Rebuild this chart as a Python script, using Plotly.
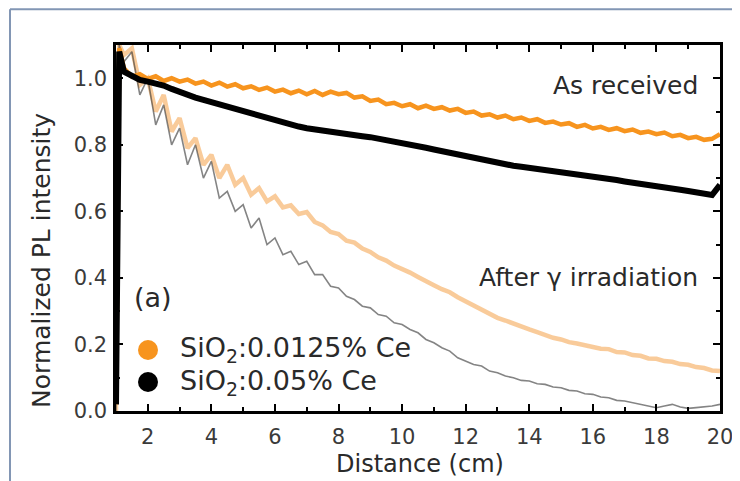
import plotly.graph_objects as go

# Distance (cm)
distance = [1.0, 1.1,
            1.25, 1.5, 1.75, 2.0, 2.25, 2.5, 2.75, 3.0, 3.25, 3.5, 3.75, 4.0,
            4.25, 4.5, 4.75, 5.0, 5.25, 5.5, 5.75, 6.0, 6.25, 6.5, 6.75, 7.0,
            7.25, 7.5, 7.75, 8.0, 8.25, 8.5, 8.75, 9.0, 9.25, 9.5, 9.75, 10.0,
            10.25, 10.5, 10.75, 11.0, 11.25, 11.5, 11.75, 12.0, 12.25, 12.5, 12.75, 13.0,
            13.25, 13.5, 13.75, 14.0, 14.25, 14.5, 14.75, 15.0, 15.25, 15.5, 15.75, 16.0,
            16.25, 16.5, 16.75, 17.0, 17.25, 17.5, 17.75, 18.0, 18.25, 18.5, 18.75, 19.0,
            19.25, 19.5, 19.75, 20.0]

# SiO2:0.0125% Ce, as received
orange_received = [0.02, 1.09,
                   1.03, 1.005, 1.012, 0.998, 1.006, 0.992, 1.0, 0.99,
                   0.996, 0.984, 0.99, 0.978, 0.987, 0.975, 0.982, 0.97,
                   0.976, 0.965, 0.972, 0.96, 0.966, 0.955, 0.963, 0.952,
                   0.962, 0.95, 0.96, 0.952, 0.956, 0.942, 0.946, 0.932,
                   0.936, 0.922, 0.926, 0.916, 0.922, 0.91, 0.918, 0.908,
                   0.913, 0.903, 0.908, 0.896, 0.9, 0.888, 0.892, 0.882,
                   0.888, 0.877, 0.882, 0.872, 0.877, 0.866, 0.87, 0.861,
                   0.865, 0.854, 0.86, 0.849, 0.854, 0.845, 0.85, 0.841,
                   0.846, 0.836, 0.84, 0.832, 0.837, 0.826, 0.83, 0.82,
                   0.824, 0.815, 0.818, 0.832]

# SiO2:0.05% Ce, as received
black_received = [0.02, 1.08,
                  1.02, 1.005, 0.995, 0.99, 0.985, 0.978, 0.968, 0.958,
                  0.95, 0.942, 0.935, 0.928, 0.921, 0.914, 0.907, 0.9,
                  0.893, 0.886, 0.879, 0.872, 0.866, 0.86, 0.855, 0.85,
                  0.846, 0.842, 0.839, 0.836, 0.833, 0.83, 0.826, 0.823,
                  0.819, 0.815, 0.811, 0.806, 0.801, 0.796, 0.791, 0.786,
                  0.781, 0.776, 0.771, 0.766, 0.76, 0.754, 0.749, 0.745,
                  0.741, 0.737, 0.734, 0.731, 0.728, 0.725, 0.722, 0.719,
                  0.716, 0.713, 0.71, 0.706, 0.702, 0.698, 0.694, 0.69,
                  0.687, 0.684, 0.68, 0.677, 0.673, 0.669, 0.665, 0.661,
                  0.657, 0.653, 0.649, 0.68]

# SiO2:0.0125% Ce, after gamma irradiation
orange_irradiated = [0.0, 1.1,
                     1.07, 1.09, 0.98, 1.0, 0.9, 0.95, 0.84, 0.88,
                     0.79, 0.82, 0.74, 0.77, 0.7, 0.74, 0.68, 0.7,
                     0.65, 0.67, 0.63, 0.645, 0.612, 0.618, 0.592, 0.598,
                     0.568, 0.558, 0.538, 0.532, 0.512, 0.506, 0.488, 0.478,
                     0.462, 0.452, 0.437, 0.428, 0.416, 0.403, 0.392, 0.378,
                     0.366, 0.357, 0.342, 0.33, 0.317, 0.306, 0.292, 0.28,
                     0.272, 0.262, 0.252, 0.245, 0.237, 0.228, 0.22, 0.215,
                     0.207, 0.203, 0.197, 0.194, 0.187, 0.186, 0.177, 0.176,
                     0.168, 0.166, 0.158, 0.157, 0.15, 0.148, 0.141, 0.139,
                     0.132, 0.129, 0.122, 0.12]

# SiO2:0.05% Ce, after gamma irradiation
black_irradiated = [0.0, 1.1,
                    1.05, 1.08, 0.95, 1.0, 0.86, 0.92, 0.8, 0.85,
                    0.74, 0.8, 0.7, 0.75, 0.64, 0.66, 0.6, 0.62,
                    0.55, 0.58, 0.5, 0.52, 0.47, 0.48, 0.44, 0.45,
                    0.41, 0.41, 0.375, 0.37, 0.345, 0.335, 0.315, 0.31,
                    0.29, 0.285, 0.265, 0.26, 0.245, 0.235, 0.215, 0.205,
                    0.19, 0.18, 0.16, 0.15, 0.14, 0.135, 0.12, 0.115,
                    0.105, 0.1, 0.092, 0.09, 0.082, 0.08, 0.072, 0.07,
                    0.062, 0.06, 0.052, 0.05, 0.042, 0.04, 0.032, 0.03,
                    0.025, 0.022, 0.015, 0.01, 0.015, 0.02, 0.012, 0.008,
                    0.01, 0.012, 0.015, 0.02]

x_ticks = [2, 4, 6, 8, 10, 12, 14, 16, 18, 20]
y_ticks = [0.0, 0.2, 0.4, 0.6, 0.8, 1.0]
y_tick_text = ["0.0", "0.2", "0.4", "0.6", "0.8", "1.0"]

legend_labels = ["SiO<sub>2</sub>:0.0125% Ce", "SiO<sub>2</sub>:0.05% Ce"]

ORANGE = "rgb(247,148,30)"
FONT = "DejaVu Sans"
TXT = "#2a2a2a"

fig = go.Figure()
fig.add_trace(go.Scatter(x=distance, y=orange_irradiated, mode="lines",
                         line=dict(color="rgba(247,185,120,0.75)", width=4.5), showlegend=False))
fig.add_trace(go.Scatter(x=distance, y=black_irradiated, mode="lines",
                         line=dict(color="rgba(50,50,50,0.6)", width=1.6), showlegend=False))
fig.add_trace(go.Scatter(x=distance, y=orange_received, mode="lines",
                         line=dict(color=ORANGE, width=4.5), showlegend=False))
fig.add_trace(go.Scatter(x=distance, y=black_received, mode="lines",
                         line=dict(color="black", width=6), showlegend=False))

axis_common = dict(showline=True, linecolor="black", linewidth=2.5, mirror="ticks",
                   ticks="inside", ticklen=7, tickwidth=2, tickcolor="black",
                   showgrid=False, zeroline=False, automargin=False,
                   tickfont=dict(family=FONT, size=21, color="#3a3a3a"))

fig.update_xaxes(range=[1, 20], tickvals=x_ticks, ticklabelstandoff=5,
                 minor=dict(ticks="inside", ticklen=4, tickwidth=2, tickcolor="black", dtick=1, tick0=1),
                 **axis_common)
fig.update_yaxes(range=[0, 1.1], tickvals=y_ticks, ticktext=y_tick_text, ticklabelstandoff=2,
                 minor=dict(ticks="inside", ticklen=4, tickwidth=2, tickcolor="black", dtick=0.1, tick0=0),
                 **axis_common)

# axis titles
fig.add_annotation(x=0.503, y=-0.145, xref="paper", yref="paper", text="Distance (cm)",
                   showarrow=False, xanchor="center", yanchor="middle",
                   font=dict(family=FONT, size=24, color=TXT))
fig.add_annotation(x=-0.1225, y=0.41, xref="paper", yref="paper", text="Normalized PL intensity",
                   showarrow=False, xanchor="center", yanchor="middle", textangle=-90,
                   font=dict(family=FONT, size=25, color=TXT))

fig.add_annotation(x=0.967, y=0.888, xref="paper", yref="paper", text="As received",
                   showarrow=False, xanchor="right", yanchor="middle",
                   font=dict(family=FONT, size=25, color=TXT))
fig.add_annotation(x=0.967, y=0.366, xref="paper", yref="paper", text="After γ irradiation",
                   showarrow=False, xanchor="right", yanchor="middle",
                   font=dict(family=FONT, size=25, color=TXT))
fig.add_annotation(x=0.026, y=0.309, xref="paper", yref="paper", text="(a)",
                   showarrow=False, xanchor="left", yanchor="middle",
                   font=dict(family=FONT, size=27, color=TXT))

# legend (drawn manually for exact spacing)
legend_rows = [(0.1667, ORANGE), (0.0792, "black")]
for (ly, col), lab in zip(legend_rows, legend_labels):
    fig.add_shape(type="circle", xref="paper", yref="paper", xsizemode="pixel", ysizemode="pixel",
                  xanchor=0.053, yanchor=ly, x0=-10, x1=10, y0=-10, y1=10,
                  fillcolor=col, line=dict(color=col, width=0))
    fig.add_annotation(x=0.1026, y=ly, xref="paper", yref="paper", text=lab,
                       showarrow=False, xanchor="left", yanchor="middle",
                       font=dict(family=FONT, size=27, color=TXT))

# outer frame lines (top and left)
frame = "rgb(130,150,180)"
fig.add_shape(type="line", xref="paper", yref="paper", x0=-0.1755, x1=1.1, y0=1.098, y1=1.098,
              line=dict(color=frame, width=2))
fig.add_shape(type="line", xref="paper", yref="paper", x0=-0.1755, x1=-0.1755, y0=1.098, y1=-0.3,
              line=dict(color=frame, width=2))

fig.update_layout(
    width=732, height=473,
    margin=dict(l=108, r=20, t=37, b=70),
    paper_bgcolor="white", plot_bgcolor="white",
    showlegend=False,
)

fig.write_html("out.html")
